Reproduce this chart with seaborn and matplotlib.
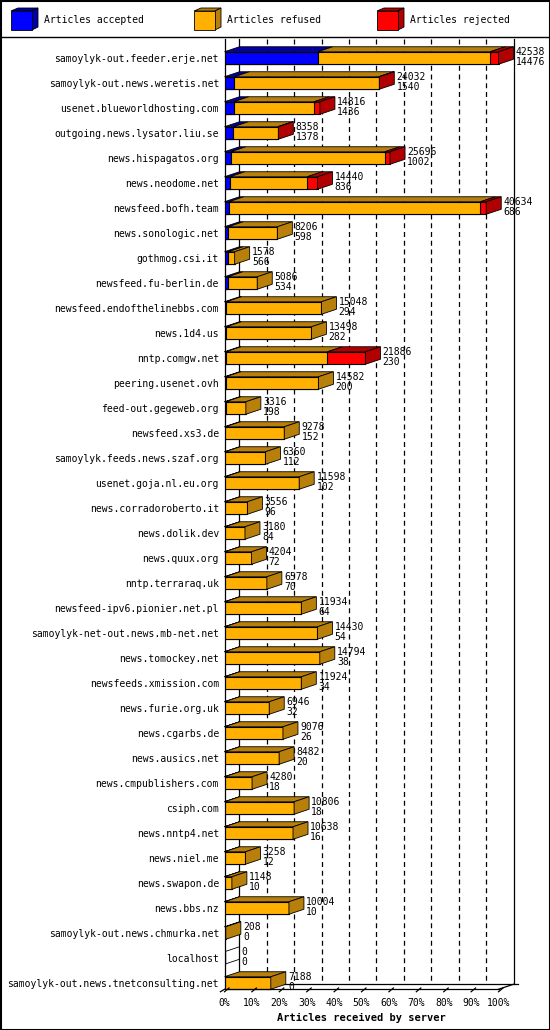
import numpy as np
import pandas as pd
import matplotlib
matplotlib.use("Agg")
import matplotlib.pyplot as plt
import seaborn as sns
from matplotlib.patches import Polygon, Rectangle

# data
servers = ["samoylyk-out.feeder.erje.net", "samoylyk-out.news.weretis.net", "usenet.blueworldhosting.com",
           "outgoing.news.lysator.liu.se", "news.hispagatos.org", "news.neodome.net", "newsfeed.bofh.team",
           "news.sonologic.net", "gothmog.csi.it", "newsfeed.fu-berlin.de", "newsfeed.endofthelinebbs.com",
           "news.1d4.us", "nntp.comgw.net", "peering.usenet.ovh", "feed-out.gegeweb.org", "newsfeed.xs3.de",
           "samoylyk.feeds.news.szaf.org", "usenet.goja.nl.eu.org", "news.corradoroberto.it", "news.dolik.dev",
           "news.quux.org", "nntp.terraraq.uk", "newsfeed-ipv6.pionier.net.pl", "samoylyk-net-out.news.mb-net.net",
           "news.tomockey.net", "newsfeeds.xmission.com", "news.furie.org.uk", "news.cgarbs.de", "news.ausics.net",
           "news.cmpublishers.com", "csiph.com", "news.nntp4.net", "news.niel.me", "news.swapon.de", "news.bbs.nz",
           "samoylyk-out.news.chmurka.net", "localhost", "samoylyk-out.news.tnetconsulting.net"]
total = [42538, 24032, 14816, 8358, 25696, 14440, 40634, 8206, 1578, 5086, 15048, 13498, 21886, 14582,
         3316, 9278, 6360, 11598, 3556, 3180, 4204, 6578, 11934, 14430, 14794, 11924, 6946, 9076, 8482,
         4280, 10806, 10638, 3258, 1148, 10004, 208, 0, 7188]
accepted = [14476, 1540, 1436, 1378, 1002, 836, 686, 598, 566, 534, 294, 282, 230, 200, 198, 152, 112,
            102, 96, 84, 72, 70, 64, 54, 38, 34, 32, 26, 20, 18, 18, 16, 12, 10, 10, 0, 0, 0]
rejected = [1300, 100, 900, 100, 800, 1600, 900, 0, 0, 0, 0, 0, 5900, 0, 0, 0, 0, 0, 0, 0, 0, 0, 0,
            0, 0, 0, 0, 0, 0, 0, 0, 0, 0, 0, 0, 0, 0, 0]
ticks = [f"{p}%" for p in range(0, 101, 10)]

mx = max(total)
df = pd.DataFrame({"server": servers,
                   "acc": np.array(accepted) / mx * 100,
                   "ref": (np.array(total) - np.array(rejected)) / mx * 100,
                   "all": np.array(total) / mx * 100})

plt.rcParams["font.family"] = ["DejaVu Sans Mono"]
FS = 7
W, H = 550, 1030
fig = plt.figure(figsize=(5.5, 10.3), dpi=100)
fig.patch.set_facecolor("white")

top_px, bot_px = 39.25, 995.5
ax = fig.add_axes([224.5 / W, 1 - bot_px / H, 289 / W, (bot_px - top_px) / H])
n = len(servers)

dx, dy = 5.47, 0.2
hh = 0.25
cols = {"acc": ("#0000ff", "#0000a8"),
        "ref": ("#ffb000", "#b8800a"),
        "rej": ("#ff0000", "#b00000")}

for col, c in [("all", "#ff0000"), ("ref", "#ffb000"), ("acc", "#0000ff")]:
    sns.barplot(data=df, y="server", x=col, orient="h", color=c, width=0.5,
                edgecolor="black", linewidth=0.8, saturation=1, ax=ax, zorder=3)
    for i, p in enumerate(ax.containers[-1]):
        p.set_y(i - hh)
        p.set_height(2 * hh)

ax.set_xlim(0, 105.47)
ax.set_ylim(37.5, -0.75)

# 3D faces
for i in range(n):
    segs = [("acc", 0, df["acc"][i]), ("ref", df["acc"][i], df["ref"][i]), ("rej", df["ref"][i], df["all"][i])]
    segs = [s for s in segs if s[2] - s[1] > 1e-9]
    yt = i - hh
    for k, a, b in segs:
        ax.add_patch(Polygon([(a, yt), (a + dx, yt - dy), (b + dx, yt - dy), (b, yt)], closed=True,
                             facecolor=cols[k][1], edgecolor="black", lw=0.6, zorder=4, clip_on=False))
    if segs:
        k, a, b = segs[-1]
        ax.add_patch(Polygon([(b, yt), (b + dx, yt - dy), (b + dx, i + hh - dy), (b, i + hh)], closed=True,
                             facecolor=cols[k][1], edgecolor="black", lw=0.6, zorder=4, clip_on=False))
        end = b + dx
    else:
        ax.plot([0, dx], [yt, yt - dy], color="black", lw=0.6, zorder=4)
        ax.plot([0, dx], [i + hh, i + hh - dy], color="black", lw=0.6, zorder=4)
        end = dx
    ax.text(end + 0.8, i - 0.05, f"{total[i]}\n{accepted[i]}", fontsize=FS, va="center", ha="left",
            linespacing=0.95, zorder=6, clip_on=False)

# back-plane grid and floor
yf = n - 1 + hh
yb_back = yf - dy
for p in range(0, 101, 10):
    ls = "-" if p in (0, 100) else (0, (4, 3))
    ax.plot([p + dx, p + dx], [-0.75, yb_back], color="black", lw=0.9, ls=ls, zorder=1, clip_on=False)
ax.plot([0, 0], [-0.75, yf], color="black", lw=0.9, zorder=2, clip_on=False)
ax.plot([0, 100], [yf, yf], color="black", lw=0.9, zorder=5, clip_on=False)
ax.plot([dx, 100 + dx + 1.5], [yb_back, yb_back], color="black", lw=0.9, zorder=1, clip_on=False)
ax.plot([-1.5, 0], [yf + 0.1, yf], color="black", lw=0.9, zorder=5, clip_on=False)
ax.plot([100, 100 + dx], [yf, yb_back], color="black", lw=0.9, zorder=5, clip_on=False)
for p in range(0, 101, 10):
    ax.plot([p, p + dx * 0.3], [yf + 0.1, yf - 0.05], color="black", lw=0.9, zorder=5, clip_on=False)
    ax.text(p, yf + 0.55, ticks[p // 10], fontsize=FS, ha="center", va="center")
ax.text(50, yf + 1.15, "Articles received by server", fontsize=FS + 0.5, fontweight="bold",
        ha="center", va="center")

ax.set_yticks(range(n))
ax.set_yticklabels(servers, fontsize=FS)
ax.tick_params(axis="y", length=0, pad=4)
ax.set_xticks([])
ax.set_xlabel("")
ax.set_ylabel("")
for s in ax.spines.values():
    s.set_visible(False)
ax.patch.set_alpha(0)

# legend strip and frame
lg = fig.add_axes([0, 0, 1, 1], zorder=-1)
lg.set_xlim(0, W)
lg.set_ylim(H, 0)
lg.axis("off")
lg.add_patch(Rectangle((0.5, 0.5), W - 1, H - 1, fill=False, edgecolor="black", lw=1.5))
lg.plot([0, W], [36.5, 36.5], color="black", lw=1)
for x0, k, lab in [(11, "acc", "Articles accepted"), (194, "ref", "Articles refused"), (377, "rej", "Articles rejected")]:
    lg.add_patch(Polygon([(x0, 11), (x0 + 7, 8), (x0 + 27, 8), (x0 + 21, 11)], facecolor=cols[k][1], edgecolor="black", lw=0.6))
    lg.add_patch(Polygon([(x0 + 21, 11), (x0 + 27, 8), (x0 + 27, 27), (x0 + 21, 30)], facecolor=cols[k][1], edgecolor="black", lw=0.6))
    lg.add_patch(Rectangle((x0, 11), 21, 19, facecolor=cols[k][0], edgecolor="black", lw=0.6))
    lg.text(x0 + 33, 20, lab, fontsize=FS, va="center", ha="left")

fig.savefig("out.png", dpi=100)
